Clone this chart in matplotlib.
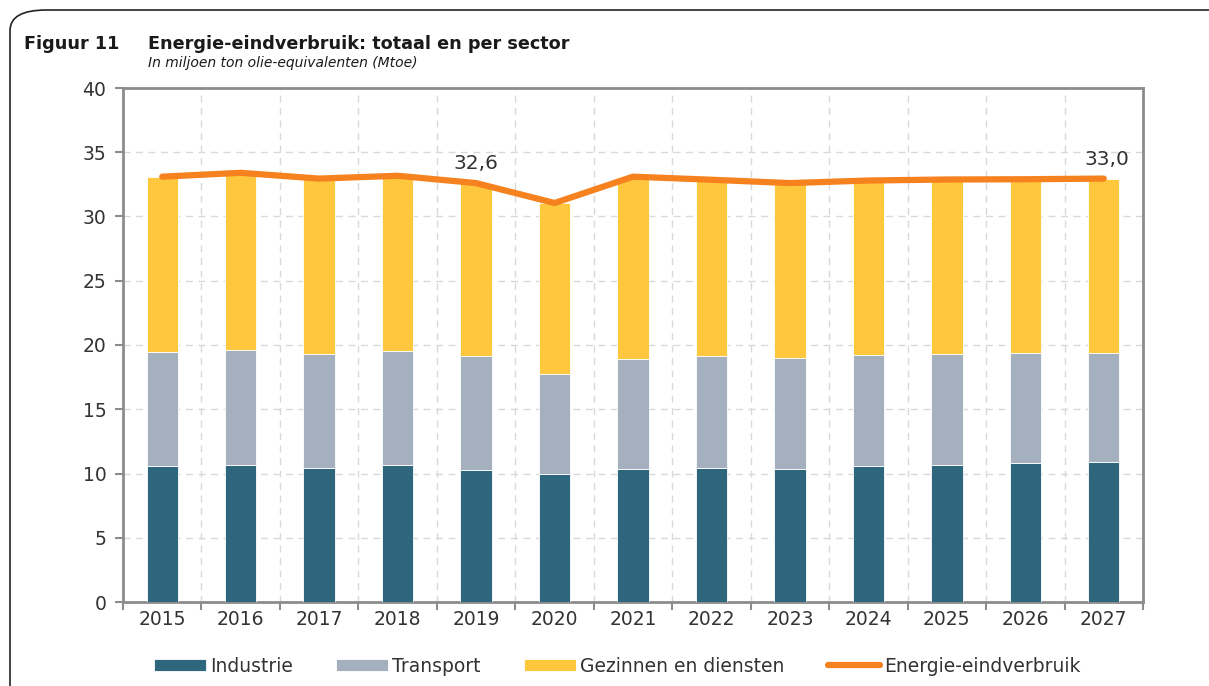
import numpy as np
import matplotlib.pyplot as plt
from matplotlib.patches import FancyBboxPatch

years = ['2015', '2016', '2017', '2018', '2019', '2020', '2021',
         '2022', '2023', '2024', '2025', '2026', '2027']
industrie = [10.59, 10.65, 10.44, 10.65, 10.28, 9.97, 10.36,
             10.44, 10.36, 10.59, 10.70, 10.82, 10.90]
transport = [8.87, 8.96, 8.86, 8.91, 8.88, 7.78, 8.53,
             8.72, 8.64, 8.62, 8.60, 8.53, 8.48]
totaal = [33.1, 33.4, 32.95, 33.17, 32.6, 31.05, 33.1,
          32.86, 32.6, 32.8, 32.88, 32.9, 32.95]
gezinnen = [t - i - tr for t, i, tr in zip(totaal, industrie, transport)]
labels_idx = [4, 12]
labels_txt = ['32,6', '33,0']

c_ind = '#2E677D'
c_tra = '#A5B0BE'
c_gez = '#FFC73D'
c_tot = '#F5821F'
txt = '#333333'
spine = '#8C8C8C'

plt.rcParams['font.family'] = ['DejaVu Sans']

fig = plt.figure(figsize=(12.09, 6.86), dpi=100)

# outer rounded frame
frame = FancyBboxPatch((10 / 1209, -0.2), 1.2, 1.2 - 10 / 686,
                       boxstyle='round,pad=0,rounding_size=0.03',
                       transform=fig.transFigure, fill=False,
                       edgecolor='#222222', linewidth=1.2)
fig.patches.append(frame)

ax = fig.add_axes([123 / 1209, 1 - 602 / 686, (1143 - 123) / 1209, (602 - 88) / 686])

x = np.arange(len(years))
w = 0.40
b1 = ax.bar(x, industrie, w, color=c_ind, edgecolor='white', linewidth=0.6,
            label='Industrie', zorder=3)
b2 = ax.bar(x, transport, w, bottom=industrie, color=c_tra, edgecolor='white',
            linewidth=0.6, label='Transport', zorder=3)
bot2 = [a + b for a, b in zip(industrie, transport)]
b3 = ax.bar(x, gezinnen, w, bottom=bot2, color=c_gez, edgecolor='white',
            linewidth=0.6, label='Gezinnen en diensten', zorder=3)
ln, = ax.plot(x, totaal, color=c_tot, linewidth=4.5, solid_capstyle='round',
              label='Energie-eindverbruik', zorder=4)

for i, s in zip(labels_idx, labels_txt):
    ax.annotate(s, (x[i], totaal[i]), xytext=(2 if i == 12 else 0, 7),
                textcoords='offset points',
                ha='center', va='bottom', fontsize=14.5, color=txt)

ax.set_xlim(-0.5, len(years) - 0.5)
ax.set_ylim(0, 40)
ax.set_yticks(range(0, 41, 5))

# category boundaries for ticks and vertical grid
ax.set_xticks(np.arange(-0.5, len(years), 1.0))
ax.set_xticklabels([])
ax.set_xticks(x, minor=True)
ax.set_xticklabels(years, minor=True)
ax.tick_params(axis='x', which='minor', length=0, pad=6, labelsize=13.5, labelcolor=txt)
ax.tick_params(axis='x', which='major', length=6, width=1.5, color=spine, direction='out')
ax.tick_params(axis='y', length=6, width=1.5, color=spine, labelsize=13.5,
               labelcolor=txt, pad=6)

ax.grid(True, axis='both', which='major', linestyle=(0, (5, 4)),
        color='#D9D9D9', linewidth=1.0, zorder=0)
ax.set_axisbelow(True)
for s in ax.spines.values():
    s.set_color(spine)
    s.set_linewidth(2)

fig.text(24 / 1209, 1 - 44 / 686, 'Figuur 11', fontsize=12.7, fontweight='bold',
         color='#1a1a1a', va='center')
fig.text(148 / 1209, 1 - 44 / 686, 'Energie-eindverbruik: totaal en per sector',
         fontsize=12.7, fontweight='bold', color='#1a1a1a', va='center')
fig.text(148 / 1209, 1 - 63 / 686, 'In miljoen ton olie-equivalenten (Mtoe)',
         fontsize=10, style='italic', color='#1a1a1a', va='center')

leg = fig.legend(handles=[b1, b2, b3, ln], loc='center', ncol=4,
                 bbox_to_anchor=(617 / 1209, 1 - 666 / 686), frameon=False,
                 fontsize=13.5, handlelength=2.8, handleheight=0.6,
                 handletextpad=0.2, columnspacing=2.3, labelcolor=txt)

fig.savefig('out.png', dpi=100)
